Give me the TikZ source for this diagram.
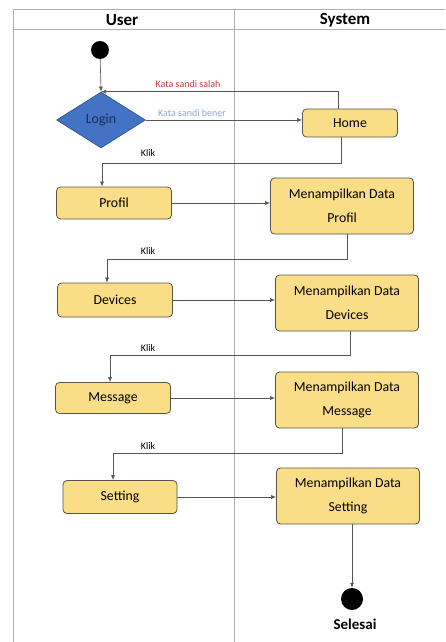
\documentclass[tikz,border=0pt]{standalone}
\usepackage{fontspec}
\setmainfont{Carlito}
\usetikzlibrary{shapes.geometric,arrows.meta}
\definecolor{boxfill}{RGB}{250,221,135}
\definecolor{boxline}{RGB}{90,85,70}
\definecolor{diafill}{RGB}{68,114,196}
\definecolor{dialine}{RGB}{47,82,143}
\definecolor{logintext}{RGB}{25,45,95}
\definecolor{salah}{RGB}{192,60,60}
\definecolor{bener}{RGB}{140,165,210}
\definecolor{frame}{RGB}{175,175,175}
\definecolor{conn}{RGB}{85,85,85}
\tikzset{
  actbox/.style={draw=boxline, fill=boxfill, line width=0.8pt, rounded corners=4pt,
    inner sep=0pt, align=center, font=\fontsize{13.8}{24}\selectfont},
  smallbox/.style={actbox, minimum width=115pt, minimum height=32pt},
  bigbox/.style={actbox, minimum width=143pt, minimum height=56pt},
  arr/.style={draw=conn, line width=0.6pt, -{Latex[length=5pt,width=4pt]}},
  lab/.style={font=\fontsize{10}{12}\selectfont, inner sep=0pt},
  hdr/.style={font=\fontsize{17}{20}\selectfont\bfseries, inner sep=0pt},
  lane/.style={draw=frame, line width=0.9pt}
}
\begin{document}
\begin{tikzpicture}[x=1pt,y=-1pt]
\useasboundingbox (0,0) rectangle (445,642);
% swimlane frame
\draw[lane] (445,9) -- (13,9) -- (13,642);
\draw[lane] (13,29) -- (445,29);
\draw[lane] (234,9) -- (234,642);
\node[hdr] (huser) at (122,20) {User};
\node[hdr] (hsys) at (345,20) {System};
% nodes
\node[circle, fill=black, minimum size=18pt, inner sep=0pt] (start) at (100,50) {};
\node[diamond, fill=diafill, draw=dialine, line width=0.6pt, minimum width=89pt, minimum height=56pt, inner sep=0pt,
  text=logintext, font=\fontsize{14}{16}\selectfont] (login) at (101,120) {Login};
\node[actbox, minimum width=95pt, minimum height=28pt] (home) at (350,123) {Home};
\node[smallbox] (profil) at (114,203) {Profil};
\node[bigbox] (mdp) at (342,206) {Menampilkan Data\\Profil};
\node[smallbox, minimum height=34pt] (devices) at (115,300) {Devices};
\node[bigbox] (mdd) at (347,303) {Menampilkan Data\\Devices};
\node[smallbox, minimum height=31pt] (message) at (113,398) {Message};
\node[bigbox] (mdm) at (347,400) {Menampilkan Data\\Message};
\node[smallbox, minimum width=114pt, minimum height=33pt] (setting) at (120,497) {Setting};
\node[bigbox] (mds) at (348,496) {Menampilkan Data\\Setting};
\node[circle, fill=black, minimum size=22pt, inner sep=0pt] (end) at (352,599) {};
\node[font=\fontsize{15}{17}\selectfont\bfseries, inner sep=0pt] (selesai) at (355,624) {Selesai};
% connectors
\draw[arr] (start) -- (login.north);
\draw[arr] ([xshift=-12pt]home.north) |- (login.north);
\node[lab, text=salah] (lsalah) at (188,84) {Kata sandi salah};
\draw[arr] (login.east) -- (login.east -| home.west);
\node[lab, text=bener] (lbener) at (192,113) {Kata sandi bener};
\draw[arr] ([xshift=-9pt]home.south) -- ++(0,26) -| ([xshift=-12pt]profil.north);
\node[lab] (k1) at (148,153) {Klik};
\draw[arr] (profil.east) -- (profil.east -| mdp.west);
\draw[arr] ([xshift=5pt]mdp.south) -- ++(0,25) -| ([xshift=-8pt]devices.north);
\node[lab] (k2) at (148,251) {Klik};
\draw[arr] (devices.east) -- (devices.east -| mdd.west);
\draw[arr] ([xshift=3pt]mdd.south) -- ++(0,24) -| ([xshift=-3pt]message.north);
\node[lab] (k3) at (148,348) {Klik};
\draw[arr] (message.east) -- (message.east -| mdm.west);
\draw[arr] ([xshift=-5pt]mdm.south) -- ++(0,25) -| ([xshift=-7pt]setting.north);
\node[lab] (k4) at (148,446) {Klik};
\draw[arr] (setting.east) -- (setting.east -| mds.west);
\draw[arr] ([xshift=4pt]mds.south) -- (end.north);
\end{tikzpicture}
\end{document}
